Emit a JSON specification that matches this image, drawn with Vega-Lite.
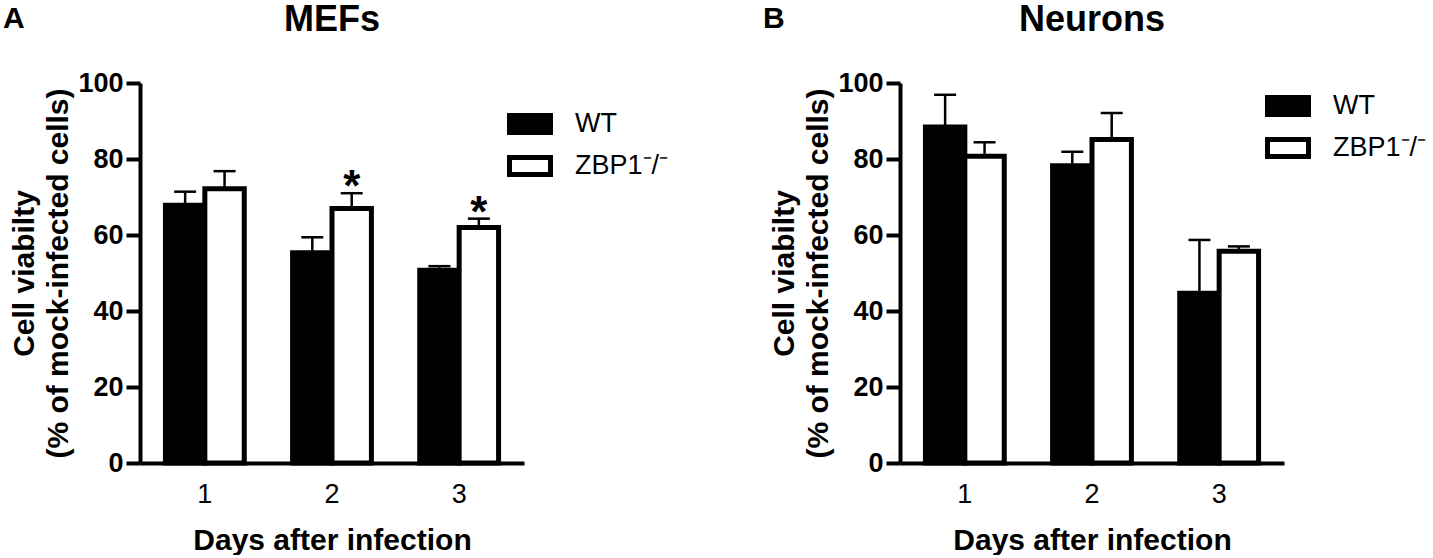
{
  "$schema": "https://vega.github.io/schema/vega-lite/v6.json",
  "padding": {"left": 2, "top": 2, "right": 60, "bottom": 0},
  "background": "white",
  "config": {
    "font": "Liberation Sans",
    "view": {"stroke": null},
    "axis": {"grid": false, "domainColor": "black", "tickColor": "black", "labelColor": "black", "titleColor": "black"},
    "title": {"color": "black"}
  },
  "datasets": {
    "mefs": [
      {"day": "1", "genotype": "WT", "value": 67.8, "upper": 71.4, "sig": ""},
      {"day": "1", "genotype": "ZBP1-/-", "value": 72.2, "upper": 76.8, "sig": ""},
      {"day": "2", "genotype": "WT", "value": 55.3, "upper": 59.4, "sig": ""},
      {"day": "2", "genotype": "ZBP1-/-", "value": 67.0, "upper": 71.0, "sig": "*"},
      {"day": "3", "genotype": "WT", "value": 50.7, "upper": 51.8, "sig": ""},
      {"day": "3", "genotype": "ZBP1-/-", "value": 62.0, "upper": 64.3, "sig": "*"}
    ],
    "neurons": [
      {"day": "1", "genotype": "WT", "value": 88.4, "upper": 96.9, "sig": ""},
      {"day": "1", "genotype": "ZBP1-/-", "value": 80.7, "upper": 84.4, "sig": ""},
      {"day": "2", "genotype": "WT", "value": 78.2, "upper": 81.9, "sig": ""},
      {"day": "2", "genotype": "ZBP1-/-", "value": 85.1, "upper": 92.1, "sig": ""},
      {"day": "3", "genotype": "WT", "value": 44.7, "upper": 58.7, "sig": ""},
      {"day": "3", "genotype": "ZBP1-/-", "value": 55.7, "upper": 57.0, "sig": ""}
    ]
  },
  "spacing": 93,
  "resolve": {"scale": {"fill": "independent"}, "legend": {"fill": "independent"}},
  "hconcat": [
    {
      "title": {"text": "A", "anchor": "start", "frame": "bounds", "fontSize": 30, "fontWeight": "bold", "offset": -32, "dx": -7},
      "vconcat": [
        {
          "width": 384,
          "height": 380,
          "title": {"text": "MEFs", "fontSize": 36, "fontWeight": "bold", "anchor": "middle", "offset": 30},
          "data": {"name": "mefs"},
          "encoding": {
            "x": {"field": "day", "type": "nominal", "title": "Days after infection",
              "scale": {"paddingInner": 0.38, "paddingOuter": 0.2},
              "axis": {"labelAngle": 0, "ticks": false, "domainWidth": 4, "labelFontSize": 27, "labelFontWeight": "normal", "labelPadding": 18, "titleFontSize": 30, "titleFontWeight": "bold", "titlePadding": 18}},
            "xOffset": {"field": "genotype", "type": "nominal", "sort": ["WT", "ZBP1-/-"]}
          },
          "layer": [
            {
              "mark": {"type": "bar", "stroke": "black", "strokeWidth": 5, "strokeJoin": "miter"},
              "encoding": {
                "y": {"field": "value", "type": "quantitative", "scale": {"domain": [0, 100]},
                  "title": ["Cell viabilty", "(% of mock-infected cells)"],
                  "axis": {"values": [0, 20, 40, 60, 80, 100], "domainWidth": 4, "tickWidth": 4, "tickSize": 14, "labelFontSize": 27, "labelFontWeight": "bold", "labelPadding": 3, "titleFontSize": 30, "titleFontWeight": "bold", "titleLineHeight": 34, "titlePadding": 4}},
                "fill": {"field": "genotype", "type": "nominal", "scale": {"domain": ["WT", "ZBP1-/-"], "range": ["black", "white"]},
                  "legend": {"title": null, "orient": "none", "legendX": 367, "legendY": 18, "padding": 0,
                    "symbolType": "M-1,-0.415L1,-0.415L1,0.415L-1,0.415Z", "symbolSize": 1681,
                    "symbolStrokeColor": "black", "symbolStrokeWidth": 5, "labelFontSize": 27, "labelOffset": 22, "labelLimit": 300, "rowPadding": -10, "labelColor": "black",
                    "labelExpr": "datum.label == 'WT' ? 'WT' : 'ZBP1⁻/⁻'"}}
              }
            },
            {
              "mark": {"type": "rule", "strokeWidth": 2.5, "color": "black"},
              "encoding": {"y": {"field": "value", "type": "quantitative"}, "y2": {"field": "upper"}}
            },
            {
              "mark": {"type": "tick", "size": 22, "thickness": 2.5, "color": "black", "opacity": 1},
              "encoding": {"y": {"field": "upper", "type": "quantitative"}}
            },
            {
              "mark": {"type": "text", "fontSize": 44, "fontWeight": "bold", "baseline": "alphabetic", "dy": 8, "color": "black"},
              "encoding": {"y": {"field": "upper", "type": "quantitative"}, "text": {"field": "sig"}}
            }
          ]
        }
      ]
    },
    {
      "title": {"text": "B", "anchor": "start", "frame": "bounds", "fontSize": 30, "fontWeight": "bold", "offset": -32, "dx": -7},
      "vconcat": [
        {
          "width": 384,
          "height": 380,
          "title": {"text": "Neurons", "fontSize": 36, "fontWeight": "bold", "anchor": "middle", "offset": 30},
          "data": {"name": "neurons"},
          "encoding": {
            "x": {"field": "day", "type": "nominal", "title": "Days after infection",
              "scale": {"paddingInner": 0.38, "paddingOuter": 0.2},
              "axis": {"labelAngle": 0, "ticks": false, "domainWidth": 4, "labelFontSize": 27, "labelFontWeight": "normal", "labelPadding": 18, "titleFontSize": 30, "titleFontWeight": "bold", "titlePadding": 18}},
            "xOffset": {"field": "genotype", "type": "nominal", "sort": ["WT", "ZBP1-/-"]}
          },
          "layer": [
            {
              "mark": {"type": "bar", "stroke": "black", "strokeWidth": 5, "strokeJoin": "miter"},
              "encoding": {
                "y": {"field": "value", "type": "quantitative", "scale": {"domain": [0, 100]},
                  "title": ["Cell viabilty", "(% of mock-infected cells)"],
                  "axis": {"values": [0, 20, 40, 60, 80, 100], "domainWidth": 4, "tickWidth": 4, "tickSize": 14, "labelFontSize": 27, "labelFontWeight": "bold", "labelPadding": 3, "titleFontSize": 30, "titleFontWeight": "bold", "titleLineHeight": 34, "titlePadding": 4}},
                "fill": {"field": "genotype", "type": "nominal", "scale": {"domain": ["WT", "ZBP1-/-"], "range": ["black", "white"]},
                  "legend": {"title": null, "orient": "none", "legendX": 365, "legendY": 0, "padding": 0,
                    "symbolType": "M-1,-0.415L1,-0.415L1,0.415L-1,0.415Z", "symbolSize": 1681,
                    "symbolStrokeColor": "black", "symbolStrokeWidth": 5, "labelFontSize": 27, "labelOffset": 22, "labelLimit": 300, "rowPadding": -12, "labelColor": "black",
                    "labelExpr": "datum.label == 'WT' ? 'WT' : 'ZBP1⁻/⁻'"}}
              }
            },
            {
              "mark": {"type": "rule", "strokeWidth": 2.5, "color": "black"},
              "encoding": {"y": {"field": "value", "type": "quantitative"}, "y2": {"field": "upper"}}
            },
            {
              "mark": {"type": "tick", "size": 22, "thickness": 2.5, "color": "black", "opacity": 1},
              "encoding": {"y": {"field": "upper", "type": "quantitative"}}
            }
          ]
        }
      ]
    }
  ]
}
